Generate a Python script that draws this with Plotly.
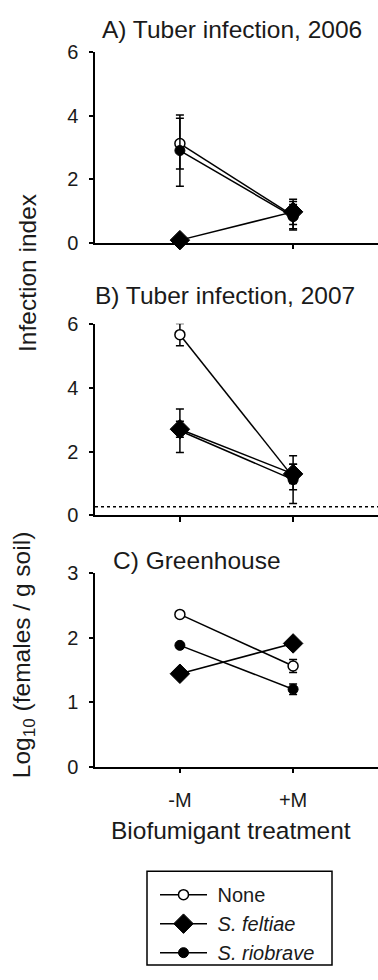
import plotly.graph_objects as go

# ---------------- data ----------------
treatments = ["-M", "+M"]
series_names = ["None", "<i>S. feltiae</i>", "<i>S. riobrave</i>"]

# Panel A: Tuber infection, 2006 (infection index)
a_none = [3.12, 0.85]
a_none_err = [0.80, 0.45]
a_felt = [0.08, 0.97]
a_felt_err = [0.0, 0.40]
a_rio = [2.90, 0.82]
a_rio_err = [1.12, 0.38]

# Panel B: Tuber infection, 2007 (infection index)
b_none = [5.66, 1.20]
b_none_err = [0.35, 0.40]
b_felt = [2.70, 1.30]
b_felt_err = [0.25, 0.30]
b_rio = [2.65, 1.12]
b_rio_err = [0.68, 0.75]
b_threshold = 0.27

# Panel C: Greenhouse (log10 females / g soil)
c_none = [2.36, 1.56]
c_none_err = [0.03, 0.10]
c_felt = [1.44, 1.91]
c_felt_err = [0.05, 0.05]
c_rio = [1.88, 1.20]
c_rio_err = [0.04, 0.08]

a_ticks = [0, 2, 4, 6]
b_ticks = [0, 2, 4, 6]
c_ticks = [0, 1, 2, 3]

# ---------------- styling ----------------
FONT = "Liberation Sans, Arial, sans-serif"
TXT = "#1a1a1a"
W, H = 378, 980
TICK_FS = 20
TITLE_FS = 24.5

def px_x(p):
    return p / W

def px_y(p):
    return 1 - p / H

styles = [
    dict(symbol="circle", size=10, color="white", line=dict(color="black", width=1.5)),
    dict(symbol="diamond", size=15, color="black", line=dict(color="black", width=1)),
    dict(symbol="circle", size=10, color="black", line=dict(color="black", width=1)),
]

fig = go.Figure()

panels = [
    ("x", "y", [a_none, a_felt, a_rio], [a_none_err, a_felt_err, a_rio_err], True),
    ("x2", "y2", [b_none, b_felt, b_rio], [b_none_err, b_felt_err, b_rio_err], False),
    ("x3", "y3", [c_none, c_felt, c_rio], [c_none_err, c_felt_err, c_rio_err], False),
]

for xa, ya, vals, errs, show in panels:
    for i in range(3):
        fig.add_trace(go.Scatter(
            x=treatments, y=vals[i], xaxis=xa, yaxis=ya,
            mode="lines+markers",
            name="\u00a0" + series_names[i], legendgroup=str(i), showlegend=show,
            line=dict(color="black", width=1.5),
            marker=styles[i],
            error_y=dict(type="data", array=errs[i], visible=True,
                         color="black", thickness=1.5, width=4),
            cliponaxis=False,
        ))

# dotted threshold line in panel B
fig.add_shape(type="line", xref="x2 domain", yref="y2",
              x0=0, x1=1, y0=b_threshold, y1=b_threshold,
              line=dict(color="black", width=1.5, dash="dot"))

# legend frame
fig.add_shape(type="rect", xref="paper", yref="paper",
              x0=px_x(147), x1=px_x(332), y0=px_y(976), y1=px_y(880),
              line=dict(color="black", width=1.5), layer="above")

x_dom = [px_x(95), 1.0]
xcommon = dict(type="category", categoryorder="array", categoryarray=treatments,
               range=[-0.75, 1.75], showline=True, linecolor="black", linewidth=1.5,
               ticks="outside", ticklen=5, tickwidth=1.5, tickcolor="black",
               showgrid=False, zeroline=False, domain=x_dom,
               tickfont=dict(family=FONT, size=TICK_FS, color=TXT))
ycommon = dict(showline=True, linecolor="black", linewidth=1.5,
               ticks="outside", ticklen=4, tickwidth=1.5, tickcolor="black",
               showgrid=False, zeroline=False, ticklabelstandoff=7,
               tickfont=dict(family=FONT, size=TICK_FS, color=TXT))

fig.update_layout(
    width=W, height=H,
    margin=dict(l=0, r=0, t=0, b=0),
    paper_bgcolor="white", plot_bgcolor="white",
    font=dict(family=FONT, color=TXT),
    xaxis=dict(xcommon, anchor="y", showticklabels=False),
    xaxis2=dict(xcommon, anchor="y2", showticklabels=False),
    xaxis3=dict(xcommon, anchor="y3", showticklabels=True, ticklabelstandoff=10),
    yaxis=dict(ycommon, anchor="x", range=[0, 6], tickvals=a_ticks,
               domain=[px_y(237), px_y(42)]),
    yaxis2=dict(ycommon, anchor="x2", range=[0, 6], tickvals=b_ticks,
                domain=[px_y(516), px_y(320)]),
    yaxis3=dict(ycommon, anchor="x3", range=[0, 3], tickvals=c_ticks,
                domain=[px_y(773), px_y(575)]),
    legend=dict(x=px_x(155), y=px_y(884), xanchor="left", yanchor="top",
                borderwidth=0, bgcolor="rgba(0,0,0,0)",
                font=dict(family=FONT, size=20, color=TXT),
                itemwidth=47, tracegroupgap=0),
    showlegend=True,
)

ann = dict(showarrow=False, xref="paper", yref="paper",
           font=dict(family=FONT, size=TITLE_FS, color=TXT))
fig.add_annotation(ann, text="A) Tuber infection, 2006", x=px_x(100), y=px_y(19),
                   xanchor="left", yanchor="middle")
fig.add_annotation(ann, text="B) Tuber infection, 2007", x=px_x(93), y=px_y(291),
                   xanchor="left", yanchor="middle")
fig.add_annotation(ann, text="C) Greenhouse", x=px_x(111), y=px_y(562),
                   xanchor="left", yanchor="middle")
fig.add_annotation(ann, text="Infection index", x=px_x(28), y=px_y(268),
                   xanchor="center", yanchor="middle", textangle=-90)
fig.add_annotation(ann, text="Log<sub>10</sub> (females / g soil)", x=px_x(23), y=px_y(659),
                   xanchor="center", yanchor="middle", textangle=-90)
fig.add_annotation(ann, text="Biofumigant treatment", x=px_x(231), y=px_y(838),
                   xanchor="center", yanchor="middle")

fig.write_html("out.html", config={"displayModeBar": False},
               post_script="document.body.style.margin='0';document.body.style.overflow='hidden';")
